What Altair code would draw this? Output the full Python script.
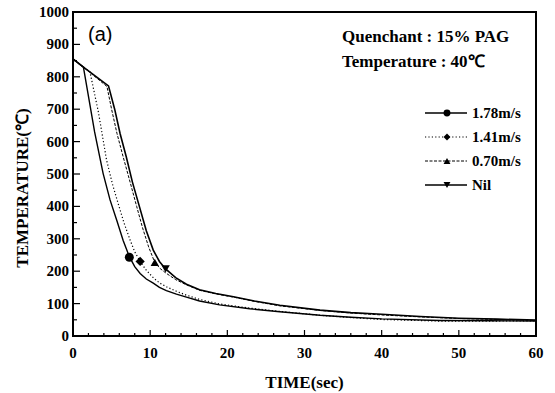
import altair as alt
import pandas as pd

# ---- data ----
series_names = ["1.78m/s", "1.41m/s", "0.70m/s", "Nil"]

t_178 = [0, 1.35, 2.8, 3.9, 4.8, 5.7, 6.5, 7.3, 8.0, 8.7, 9.5, 10.4, 11.2, 12.1, 13.4, 14.7, 16.4, 19, 22.9, 26.8, 32, 36, 40, 47.5, 54, 60]
T_178 = [855, 830, 630, 502, 420, 355, 295, 245, 214, 193, 176, 163, 150, 140, 129, 120, 108, 96, 84, 75, 64, 58, 53, 48, 47, 46]

t_141 = [0, 1.35, 2.2, 3.3, 4.35, 5.1, 5.85, 6.6, 7.4, 8.0, 8.7, 9.5, 10.4, 11.2, 12.1, 13.4, 14.7, 16.4, 19, 22.9, 26.8, 32, 36, 40, 47.5, 54, 60]
T_141 = [855, 830, 815, 690, 543, 470, 409, 350, 296, 260, 230, 203, 180, 164, 152, 138, 126, 113, 99, 86, 76, 64, 57, 51, 46, 46, 47]

t_070 = [0, 1.35, 4.4, 5.0, 5.7, 6.5, 7.4, 8.25, 9.0, 9.8, 10.6, 11.3, 12.0, 13.3, 14.7, 16.4, 18.5, 20.8, 23.5, 26.8, 32, 36, 40, 45, 50, 55, 60]
T_070 = [855, 830, 770, 700, 625, 553, 475, 400, 335, 275, 227, 208, 195, 174, 158, 141, 130, 120, 107, 93, 79, 71, 65, 59, 54, 51, 48]

t_nil = [0, 1.35, 4.6, 5.4, 6.1, 6.9, 7.7, 8.6, 9.5, 10.4, 11.2, 12.0, 13.3, 14.7, 16.4, 18.5, 20.8, 23.5, 26.8, 32, 36, 40, 45, 50, 55, 60]
T_nil = [855, 830, 772, 700, 625, 553, 475, 400, 325, 265, 230, 207, 180, 160, 143, 131, 121, 108, 95, 80, 72, 67, 60, 55, 52, 49]

marker_t = [7.3, 8.7, 10.6, 12.0]
marker_T = [243, 230, 227, 207]
marker_shapes = ["circle", "diamond", "triangle-up", "triangle-down"]
marker_sizes = [80, 85, 70, 70]

x_major = [0, 10, 20, 30, 40, 50, 60]
x_minor = [v for v in range(0, 61, 2) if v % 10 != 0]
y_major = list(range(0, 1001, 100))
y_minor = list(range(50, 1000, 100))

x_title = "TIME(sec)"
y_title = "TEMPERATURE(℃)"

# ---- layout / style ----
W, H = 463, 324
FONT = "Liberation Serif"

x_scale = alt.Scale(domain=[0, 60], nice=False, zero=False)
y_scale = alt.Scale(domain=[0, 1000], nice=False)

X = alt.X("t:Q", scale=x_scale, axis=None)
Y = alt.Y("T:Q", scale=y_scale, axis=None)

styles = {
    "1.78m/s": dict(strokeWidth=1.4),
    "1.41m/s": dict(strokeWidth=1.2, strokeDash=[1.2, 2.2]),
    "0.70m/s": dict(strokeWidth=1.0, strokeDash=[3, 1.5]),
    "Nil": dict(strokeWidth=1.6),
}
curves = {
    "1.78m/s": (t_178, T_178),
    "1.41m/s": (t_141, T_141),
    "0.70m/s": (t_070, T_070),
    "Nil": (t_nil, T_nil),
}

layers = []
one = pd.DataFrame({"a": [0]})

# inward ticks
xt = pd.DataFrame({"t": x_major + x_minor, "len": [6] * len(x_major) + [3] * len(x_minor)})
for L in (6, 3):
    d = xt[xt["len"] == L]
    layers.append(alt.Chart(d).mark_rule(color="black", strokeWidth=1.2).encode(
        x=X, y=alt.value(H), y2=alt.value(H - L)))
yt = pd.DataFrame({"T": y_major + y_minor, "len": [7] * len(y_major) + [4] * len(y_minor)})
for L in (7, 4):
    d = yt[yt["len"] == L]
    layers.append(alt.Chart(d).mark_rule(color="black", strokeWidth=1.2).encode(
        y=Y, x=alt.value(0), x2=alt.value(L)))

# tick labels as text
xl = pd.DataFrame({"t": x_major, "lab": [str(v) for v in x_major]})
layers.append(alt.Chart(xl).mark_text(font=FONT, fontWeight="bold", fontSize=15, color="black",
                                      align="center", baseline="middle").encode(
    x=X, y=alt.value(H + 17), text=alt.Text("lab:N")))
yl = pd.DataFrame({"T": y_major, "lab": [str(v) for v in y_major]})
layers.append(alt.Chart(yl).mark_text(font=FONT, fontWeight="bold", fontSize=15, color="black",
                                      align="right", baseline="middle").encode(
    y=Y, x=alt.value(-4), text=alt.Text("lab:N")))

# axis titles
layers.append(alt.Chart(one).mark_text(text=x_title, font=FONT, fontWeight="bold", fontSize=17,
                                       align="center", baseline="middle", color="black").encode(
    x=alt.value(W / 2), y=alt.value(H + 47)))
layers.append(alt.Chart(one).mark_text(text=y_title, font=FONT, fontWeight="bold", fontSize=17,
                                       angle=270, align="center", baseline="middle", color="black").encode(
    x=alt.value(-50), y=alt.value(176)))

# curves
for name in series_names:
    tt, TT = curves[name]
    df = pd.DataFrame({"t": tt, "T": TT})
    layers.append(alt.Chart(df).mark_line(color="black", interpolate="linear",
                                          **styles[name]).encode(x=X, y=Y))

# markers on curves
mdf = pd.DataFrame({"t": marker_t, "T": marker_T, "series": series_names, "sz": marker_sizes})
layers.append(alt.Chart(mdf).mark_point(filled=True, color="black", opacity=1).encode(
    x=X, y=Y,
    size=alt.Size("sz:Q", scale=None, legend=None),
    shape=alt.Shape("series:N", scale=alt.Scale(domain=series_names, range=marker_shapes), legend=None)))

# manual legend
leg_y = [101, 125, 149, 173]
for name, shp, ly in zip(series_names, marker_shapes, leg_y):
    st = dict(styles[name])
    layers.append(alt.Chart(one).mark_rule(color="black", **st).encode(
        x=alt.value(352), x2=alt.value(394), y=alt.value(ly)))
    layers.append(alt.Chart(one).mark_point(filled=True, color="black", opacity=1, size=48, shape=shp).encode(
        x=alt.value(374), y=alt.value(ly)))
    layers.append(alt.Chart(one).mark_text(text=name, font=FONT, fontWeight="bold", fontSize=15,
                                           align="left", baseline="middle", color="black").encode(
        x=alt.value(399), y=alt.value(ly)))

# annotations
layers.append(alt.Chart(one).mark_text(text="(a)", font="Liberation Sans", fontSize=20,
                                       align="left", baseline="middle", color="black").encode(
    x=alt.value(15), y=alt.value(23)))
layers.append(alt.Chart(one).mark_text(text="Quenchant : 15% PAG", font=FONT, fontWeight="bold",
                                       fontSize=17, align="left", baseline="middle", color="black").encode(
    x=alt.value(269), y=alt.value(25)))
layers.append(alt.Chart(one).mark_text(text="Temperature : 40℃", font=FONT, fontWeight="bold",
                                       fontSize=17, align="left", baseline="middle", color="black").encode(
    x=alt.value(269), y=alt.value(50)))

chart = alt.layer(*layers).properties(
    width=W, height=H,
    autosize=alt.AutoSizeParams(type="none"),
    padding={"left": 73, "top": 12, "right": 19, "bottom": 57},
    background="white",
).configure_view(stroke="black", strokeWidth=2)

chart.save("out.html", embed_options={"renderer": "svg", "actions": False})
